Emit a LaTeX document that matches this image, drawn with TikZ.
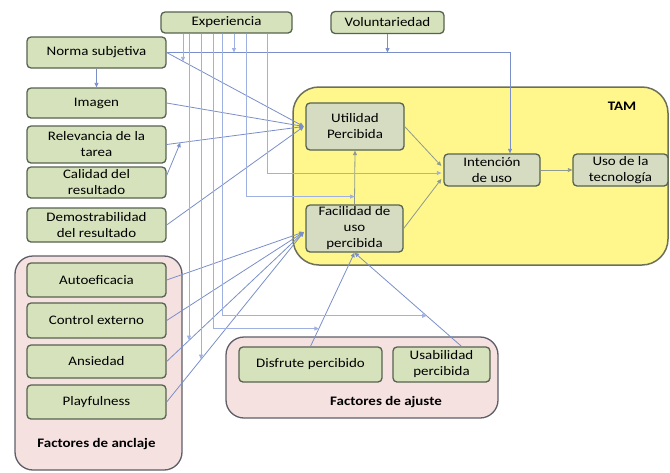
\documentclass[tikz,border=0pt]{standalone}
\usepackage{fontspec}
\setmainfont{Carlito}[FakeStretch=1.15]
\usetikzlibrary{arrows.meta,calc}

\definecolor{boxfill}{HTML}{D6E2BC}
\definecolor{tamboxfill}{HTML}{D5DCC2}
\definecolor{boxline}{HTML}{56634F}
\definecolor{tamfill}{HTML}{FFF68C}
\definecolor{tamline}{HTML}{6B705A}
\definecolor{pinkfill}{HTML}{F6E1E1}
\definecolor{pinkline}{HTML}{5E5E68}
\definecolor{linkblue}{HTML}{7A8FC9}
\definecolor{linklight}{HTML}{9FB0E2}
\definecolor{linkgray}{HTML}{8E9A8F}

\tikzset{
  box/.style={draw=boxline, fill=boxfill, line width=1.3pt, rounded corners=4pt,
    align=center, inner sep=0pt, font=\fontsize{13}{16}\selectfont},
  tambox/.style={box, fill=tamboxfill},
  group/.style={draw=pinkline, fill=pinkfill, line width=1.3pt, rounded corners=18pt,
    inner sep=0pt},
  tamgroup/.style={draw=tamline, fill=tamfill, line width=1.5pt, rounded corners=26pt,
    inner sep=0pt},
  grouplabel/.style={font=\fontsize{13}{16}\selectfont\bfseries, inner sep=0pt},
  conn/.style={draw=linkblue, line width=0.8pt,
    -{Triangle[length=4.5pt,width=4pt]}},
  modconn/.style={draw=linklight, line width=0.8pt,
    -{Triangle[length=4.5pt,width=4pt]}},
  tamconn/.style={draw=linkgray, line width=0.8pt,
    -{Triangle[length=4.5pt,width=4pt]}}
}

\begin{document}
\begin{tikzpicture}[x=1pt,y=-1pt]
\useasboundingbox (0,0) rectangle (670,472);

% group frames
\node[group, minimum width=167pt, minimum height=214pt] (anclaje) at (98.5,363) {};
\node[group, minimum width=272pt, minimum height=81pt] (ajuste) at (362,377.5) {};
\node[tamgroup, minimum width=375pt, minimum height=178pt] (tam) at (480.5,176) {};

\node[grouplabel] (lblanclaje) at (96.5,444) {Factores de anclaje};
\node[grouplabel] (lblajuste) at (386,402) {Factores de ajuste};
\node[grouplabel] (lbltam) at (622,106) {TAM};

% construct boxes
\node[box, minimum width=131pt, minimum height=21pt] (exp) at (226.5,22.5) {Experiencia};
\node[box, minimum width=113pt, minimum height=22pt] (vol) at (387.5,22.5) {Voluntariedad};

\node[box, minimum width=139pt, minimum height=31pt] (norma) at (96.5,52.5) {Norma subjetiva};
\node[box, minimum width=139pt, minimum height=30pt] (img) at (96.5,103) {Imagen};
\node[box, minimum width=139pt, minimum height=37pt] (rel) at (96.5,144.5) {Relevancia de la\\tarea};
\node[box, minimum width=139pt, minimum height=31pt] (cal) at (96.5,182.5) {Calidad del\\resultado};
\node[box, minimum width=139pt, minimum height=34pt] (dem) at (96.5,225) {Demostrabilidad\\del resultado};

\node[box, minimum width=139pt, minimum height=34pt] (auto) at (96.5,280) {Autoeficacia};
\node[box, minimum width=139pt, minimum height=35pt] (ctrl) at (96.5,320.5) {Control externo};
\node[box, minimum width=139pt, minimum height=33pt] (ans) at (96.5,361.5) {Ansiedad};
\node[box, minimum width=139pt, minimum height=34pt] (play) at (96.5,402) {Playfulness};

\node[tambox, minimum width=98pt, minimum height=47pt] (util) at (355,126.5) {Utilidad\\Percibida};
\node[tambox, minimum width=97pt, minimum height=47pt] (fac) at (354.5,228.5) {Facilidad de\\uso\\percibida};
\node[tambox, minimum width=96pt, minimum height=32pt] (int) at (492,170) {Intención\\de uso};
\node[tambox, minimum width=95pt, minimum height=32pt] (uso) at (620.5,170) {Uso de la\\tecnología};

\node[box, minimum width=143pt, minimum height=35pt] (disf) at (310.5,364.5) {Disfrute percibido};
\node[box, minimum width=97pt, minimum height=35pt] (usab) at (441.5,364.5) {Usabilidad\\percibida};

% anchor points for converging arrows
\coordinate (utilIn) at ([xshift=-1.5pt]util.west);
\coordinate (facIn) at ([xshift=-1.5pt,yshift=-3.5pt]fac.west);
\coordinate (usabTop) at ([xshift=20pt]usab.north);
\coordinate (calOut) at ([yshift=7pt]cal.east);
\coordinate (intA) at ([xshift=-2pt,yshift=4pt]int.west);
\coordinate (intB) at ([xshift=-2pt,yshift=-3pt]int.west);
\coordinate (intC) at ([xshift=-2pt,yshift=-9pt]int.west);
\coordinate (intTop) at ([xshift=18pt]int.north);

% determinants of perceived usefulness
\draw[conn] (norma.east) -- (utilIn);
\draw[conn] (img.east) -- (utilIn);
\draw[conn] (rel.east) -- (utilIn);
\draw[conn] (dem.east) -- (utilIn);
\coordinate (m0) at ($(rel.east)!0.1!(utilIn)$);
\draw[conn] (calOut) -- (m0);

% subjective norm
\draw[conn] (norma.south) -- (img.north);
\draw[conn] (norma.east) -| (intTop);
\draw[conn] (vol.south) -- (vol.south |- norma.east);

% determinants of perceived ease of use
\draw[conn] (auto.east) -- (facIn);
\draw[conn] (ctrl.east) -- (facIn);
\draw[conn] (ans.east) -- (facIn);
\draw[conn] (play.east) -- (facIn);
\draw[conn] (disf.north) -- (fac.south);
\draw[conn] (usabTop) -- (fac.south);

% TAM core
\draw[tamconn] (fac.north) -- (util.south);
\draw[tamconn] (util.east) -- (intA);
\draw[tamconn] (fac.east) -- (intC);
\draw[tamconn] (int.east) -- (uso.west);

% experience as moderator
\coordinate (e1) at ([xshift=-43.5pt]exp.south);
\coordinate (e2) at ([xshift=-37.5pt]exp.south);
\coordinate (e3) at ([xshift=-25.5pt]exp.south);
\coordinate (e4) at ([xshift=-13.5pt]exp.south);
\coordinate (e5) at ([xshift=-4.5pt]exp.south);
\coordinate (e6) at ([xshift=7.5pt]exp.south);
\coordinate (e7) at ([xshift=19.5pt]exp.south);
\coordinate (e8) at ([xshift=40.5pt]exp.south);

\coordinate (m1) at ($(norma.east)!0.12!(utilIn)$);
\coordinate (m2) at ($(ans.east)!0.165!(facIn)$);
\coordinate (m3) at ($(play.east)!0.252!(facIn)$);
\coordinate (m4) at ($(disf.north)!0.19!(fac.south)$);
\coordinate (m5) at ($(usabTop)!0.326!(fac.south)$);
\coordinate (m7) at ($(fac.north)!0.145!(util.south)$);

\draw[modconn] (e1) -- (e1 |- m1);
\draw[modconn] (e2) -- (e2 |- m2);
\draw[modconn] (e3) -- (e3 |- m3);
\draw[modconn] (e4) |- (m4);
\draw[modconn] (e5) |- (m5);
\draw[modconn] (e6) -- (e6 |- norma.east);
\draw[modconn] (e7) |- (m7);
\draw[modconn] (e8) |- (intB);

\end{tikzpicture}
\end{document}
